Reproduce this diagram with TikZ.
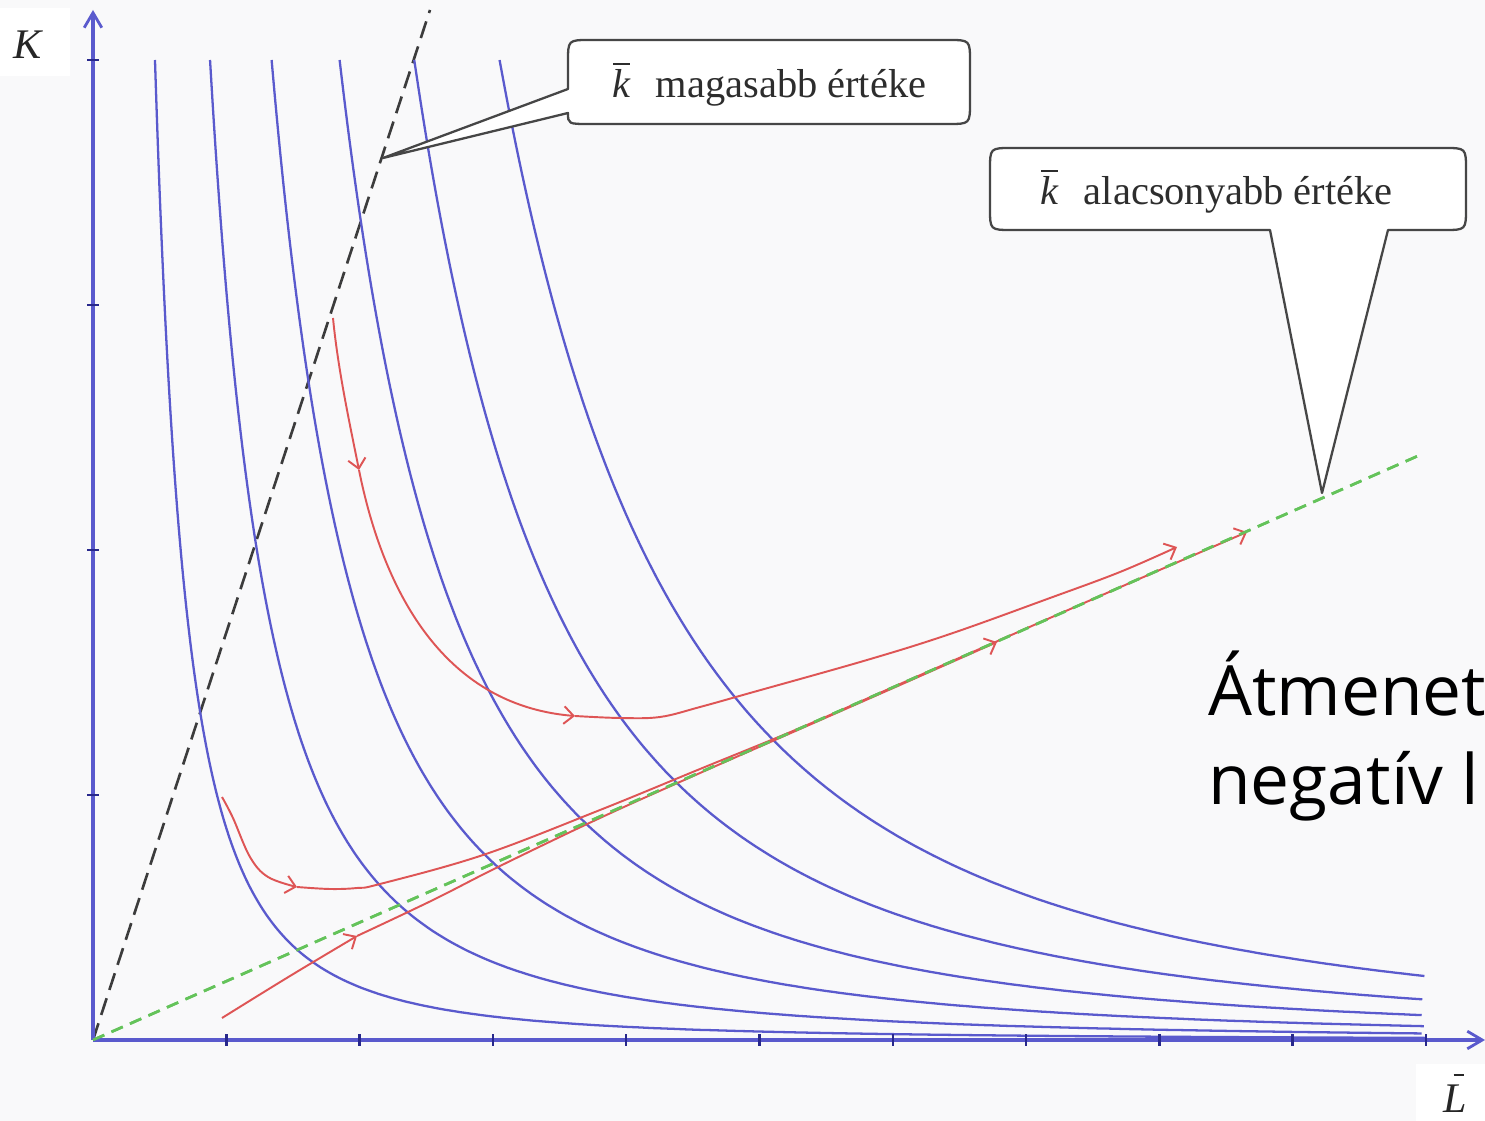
\documentclass[tikz,border=0pt]{standalone}
\usepackage{fontspec}
\setmainfont{Liberation Serif}
\newfontfamily\bigfont{Open Sans}
\usetikzlibrary{arrows.meta}
\definecolor{isoblue}{RGB}{90,90,205}
\definecolor{tickblue}{RGB}{40,40,140}
\definecolor{pathred}{RGB}{222,85,85}
\definecolor{raygreen}{RGB}{100,195,90}
\definecolor{raygray}{RGB}{60,60,60}
\definecolor{bgc}{RGB}{249,249,250}
\definecolor{calloutline}{RGB}{70,70,70}
\definecolor{callouttext}{RGB}{45,45,45}
\newcommand{\kbar}{\textit{k}\llap{\rule[0.82em]{0.42em}{0.05em}\hspace{0.02em}}}
\newcommand{\Lbar}{\textit{L}\llap{\rule[0.86em]{0.25em}{0.05em}\hspace{0.06em}}}
\begin{document}
\begin{tikzpicture}[x=0.02cm,y=-0.02cm,
  isoq/.style={isoblue, line width=1.3pt},
  axisln/.style={isoblue, line width=2pt, -{Straight Barb[length=8.5pt,width=10pt,line width=1.6pt]}},
  tickln/.style={tickblue, line width=1.4pt},
  redpath/.style={pathred, line width=1.1pt, -{Straight Barb[length=5.5pt,width=10pt]}},
  grayray/.style={raygray, line width=1.5pt, dash pattern=on 10pt off 5pt},
  greenray/.style={raygreen, line width=1.5pt, dash pattern=on 7pt off 4.5pt},
  callout/.style={calloutline, line width=1.3pt, fill=white, line join=round},
  callouttxt/.style={text=callouttext, font=\fontsize{23}{27}\selectfont, inner sep=0pt, anchor=base west},
  axlabel/.style={text=black!85, font=\fontsize{24}{28}\selectfont, inner sep=0pt},
  bigtxt/.style={font=\bigfont\fontsize{39.5}{47}\selectfont, inner sep=0pt, anchor=base west, text=black}
]
\useasboundingbox (0,0) rectangle (1485,1121);
\fill[bgc] (0,0) rectangle (1485,1121);
\fill[white] (0,8) rectangle (70,76);
\fill[white] (1416,1064) rectangle (1485,1121);

% key points
\coordinate (O) at (93,1040);
\coordinate (ytop) at (93,10);
\coordinate (xend) at (1485,1040);
\coordinate (rayK) at (430,10);
\coordinate (rayG) at (1420,455);

% rays
\draw[greenray] (O) -- (rayG);
\draw[grayray] (O) -- (rayK);

% isoquants
\foreach \Lt/\a in {0.465/2.0, 0.878/2.06, 1.34/2.12, 1.85/2.18, 2.41/2.24, 3.05/2.3}{
  \draw[isoq] plot[domain=0:{ln(10/\Lt)}, samples=220] ({93+133.3*\Lt*exp(\x)},{1040-980*exp(-\a*\x)});
}

% axes
\draw[axisln] (O) -- (ytop);
\draw[axisln] (O) -- (xend);
\foreach \k in {1,...,10}{ \draw[tickln] ({93+133.3*\k},1034) -- ({93+133.3*\k},1046); }
\foreach \k in {1,...,4}{ \draw[tickln] (87,{1040-245*\k}) -- (99,{1040-245*\k}); }

% red adjustment paths
\coordinate (r1a) at (333,318);
\coordinate (r1b) at (359,470);
\coordinate (r1c) at (575,716);
\coordinate (r1d) at (1177,547);
\draw[redpath] (r1a) .. controls (338,370) and (350,425) .. (r1b);
\draw[redpath] (r1b) .. controls (382,585) and (440,705) .. (r1c);
\draw[redpath] plot[smooth, tension=0.6] coordinates {(575,716) (620,718) (660,717) (700,707) (750,693) (867,660) (950,634) (1050,598) (1120,572) (1177,547)};

\draw[redpath] plot[smooth, tension=0.6] coordinates {(222,797) (233,818) (250,857) (268,877) (297,887)};
\draw[redpath] plot[smooth, tension=0.6] coordinates {(297,887) (330,889) (357,888) (380,884) (483,855) (600,810) (700,769) (800,728) (900,684) (1000,640) (1100,596) (1247,532)};

\draw[redpath] plot[smooth, tension=0.6] coordinates {(222,1018) (290,976) (357,936)};
\draw[redpath] plot[smooth, tension=0.6] coordinates {(357,936) (433,900) (500,866) (600,818) (700,773) (800,729) (900,685) (997,642)};

\draw[greenray] (O) -- (rayG);

% callouts
\coordinate (tipA) at (383,158);
\draw[callout] (tipA) -- (568,89) -- (568,62) .. controls (568,40) .. (590,40) -- (948,40)
  .. controls (970,40) .. (970,62) -- (970,102) .. controls (970,124) .. (948,124) -- (590,124)
  .. controls (568,124) .. (568,113) -- cycle;
\node[callouttxt] (labA) at (612,98) {\kbar\hspace{0.62em}magasabb értéke};

\coordinate (tipB) at (1322,493);
\draw[callout] (tipB) -- (1270,230) -- (1012,230) .. controls (990,230) .. (990,208) -- (990,170)
  .. controls (990,148) .. (1012,148) -- (1444,148) .. controls (1466,148) .. (1466,170) -- (1466,208)
  .. controls (1466,230) .. (1444,230) -- (1388,230) -- cycle;
\node[callouttxt] (labB) at (1040,205) {\kbar\hspace{0.62em}alacsonyabb értéke};

% axis labels
\node[axlabel] (labK) at (28,45) {\textit{K}};
\node[axlabel, anchor=base] (labL) at (1455,1112) {\Lbar};

% overlay text (cut by the picture edge, as in the reference)
\node[bigtxt] (t1) at (1208,716) {Átmenet};
\node[bigtxt] (t2) at (1208,805) {negatív l};
\end{tikzpicture}
\end{document}
